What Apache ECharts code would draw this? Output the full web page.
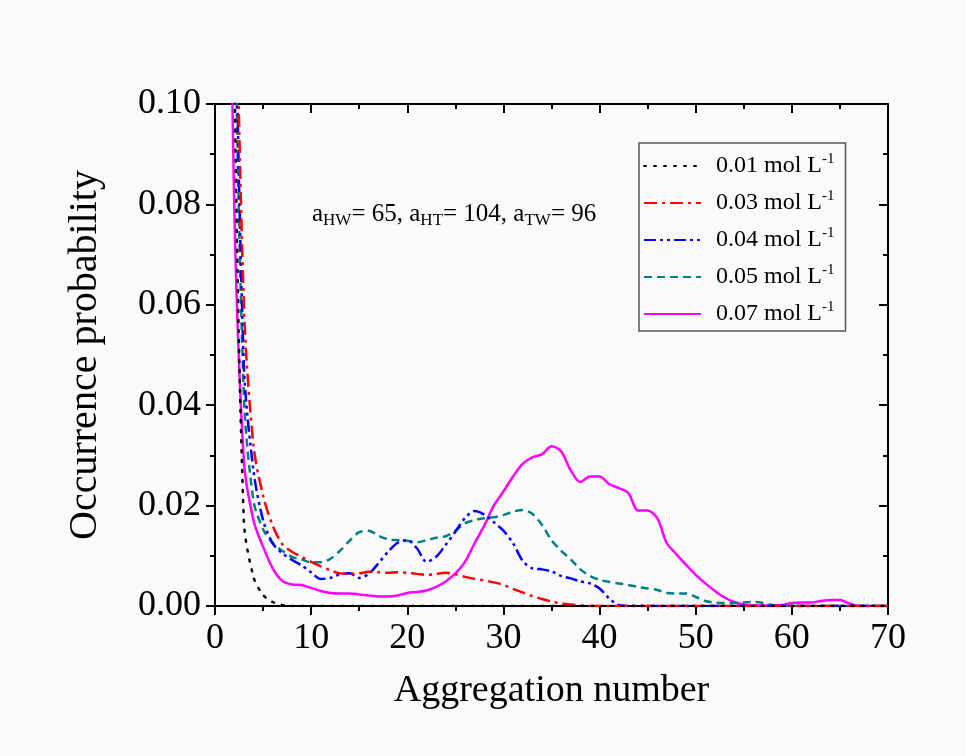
<!DOCTYPE html>
<html>
<head>
<meta charset="utf-8">
<script src="https://cdn.jsdelivr.net/npm/echarts@6/dist/echarts.min.js"></script>
<style>
html,body{margin:0;padding:0;background:#ffffff;}
#c{width:966px;height:756px;}
</style>
</head>
<body>
<div id="c"></div>
<script>
// Aggregation number (x)
const aggNumber = [1,2,3,4,5,6,7,8,9,10,11,12,13,14,15,16,17,18,19,20,21,22,23,24,25,26,27,28,29,30,31,32,33,34,35,36,37,38,39,40,41,42,43,44,45,46,47,48,49,50,51,52,53,54,55,56,57,58,59,60,61,62,63,64,65,66,67,68,69,70];

const seriesNames = ['0.01 mol L', '0.03 mol L', '0.04 mol L', '0.05 mol L', '0.07 mol L'];

const c001 = [0.3,0.11,0.017,0.0058,0.0022,0.0008,0.0002,0,0,0,0,0,0,0,0,0,0,0,0,0,0,0,0,0,0,0,0,0,0,0,0,0,0,0,0,0,0,0,0,0,0,0,0,0,0,0,0,0,0,0,0,0,0,0,0,0,0,0,0,0,0,0,0,0,0,0,0,0,0,0];

const c003 = [0.3,0.15,0.06,0.032,0.022,0.016,0.0123,0.0108,0.0098,0.0088,0.0079,0.0071,0.0065,0.0064,0.0065,0.0068,0.0067,0.0066,0.0067,0.0066,0.0064,0.0062,0.0064,0.0066,0.0063,0.0058,0.0054,0.0051,0.0047,0.0042,0.0034,0.0027,0.002,0.0014,0.0009,0.0005,0.0003,0.0001,0,0,0,0,0,0,0,0,0,0,0,0,0,0,0,0,0,0,0,0,0,0,0,0,0,0,0,0,0,0,0,0];

const c004 = [0.3,0.14,0.048,0.027,0.0171,0.0125,0.0105,0.0092,0.0081,0.0067,0.0054,0.0056,0.0063,0.0065,0.0056,0.0064,0.0085,0.0108,0.0126,0.0131,0.0115,0.0088,0.0098,0.0122,0.0148,0.0175,0.0189,0.0182,0.0167,0.015,0.0125,0.009,0.0075,0.0073,0.0069,0.006,0.0055,0.0049,0.0045,0.0035,0.0015,0.0002,0,0,0,0,0,0,0,0,0,0,0,0,0,0,0,0,0,0,0,0,0,0,0,0,0,0,0,0];

const c005 = [0.3,0.13,0.042,0.021,0.0153,0.0125,0.011,0.0098,0.0093,0.0087,0.0087,0.0094,0.011,0.013,0.0147,0.015,0.014,0.0133,0.0131,0.013,0.0127,0.0131,0.0136,0.0139,0.015,0.0165,0.0171,0.0175,0.0177,0.0181,0.0188,0.0191,0.0184,0.0162,0.0131,0.011,0.0093,0.0073,0.006,0.0052,0.0048,0.0045,0.0042,0.0038,0.0035,0.0032,0.0026,0.0025,0.0025,0.0018,0.001,0.0007,0.0006,0.0006,0.0007,0.0008,0.0006,0.0002,0,0,0,0,0,0,0,0,0,0,0,0];

const c007 = [0.2,0.08,0.029,0.0171,0.0118,0.0075,0.005,0.0043,0.0042,0.0036,0.003,0.0026,0.0025,0.0025,0.0023,0.0021,0.0019,0.0019,0.0021,0.0026,0.0028,0.0031,0.0038,0.0049,0.0065,0.0088,0.0125,0.016,0.02,0.0228,0.0258,0.0283,0.0296,0.0302,0.0318,0.0308,0.027,0.0247,0.0258,0.0258,0.0243,0.0235,0.0225,0.019,0.019,0.0175,0.0125,0.0103,0.0082,0.0062,0.0045,0.003,0.0017,0.0008,0.0003,0.0001,0.0001,0.0001,0.0002,0.0006,0.0007,0.0007,0.001,0.0012,0.0012,0.0005,0,0,0,0];

const xTicks = [0,10,20,30,40,50,60,70];
const yTicks = [0,0.02,0.04,0.06,0.08,0.10];

const colors = ['#000000','#ff0000','#0000ff','#008080','#ff00ff'];
const dashes = [[2,8],[13,5,3,5],[12,4,3,4,3,4],[8,5],'solid'];
const allData = [c001,c003,c004,c005,c007];

const FONT = '"Liberation Serif","Times New Roman",serif';

function pairs(arr){ return aggNumber.map((x,i)=>[x,arr[i]]); }

const chart = echarts.init(document.getElementById('c'));

const series = allData.map((d,i)=>({
  name: seriesNames[i],
  type: 'line',
  data: pairs(d),
  showSymbol: false,
  symbol: 'none',
  smooth: 0.3,
  clip: true,
  lineStyle: {color: colors[i], width: 2.5, type: dashes[i], cap: i===0?'round':'butt'},
  itemStyle: {color: colors[i]},
  z: 7 - i
}));

chart.setOption({
  backgroundColor: '#fafafa',
  animation: false,
  grid: {left: 215, right: 78, top: 104, bottom: 150, containLabel: false},
  xAxis: [{
    type: 'value', min: 0, max: 70, interval: 10,
    name: 'Aggregation number', nameLocation: 'middle', nameGap: 66,
    nameTextStyle: {fontFamily: FONT, fontSize: 38, color: '#000'},
    axisLine: {show: true, onZero: false, lineStyle: {color: '#000', width: 2}},
    axisTick: {show: true, inside: false, length: 9, lineStyle: {color: '#000', width: 2}},
    minorTick: {show: true, splitNumber: 2, length: 5, lineStyle: {color: '#000', width: 2}},
    axisLabel: {fontFamily: FONT, fontSize: 36, color: '#000', margin: 15},
    splitLine: {show: false}
  },{
    type: 'value', min: 0, max: 70, interval: 10, position: 'top',
    axisLine: {show: true, onZero: false, lineStyle: {color: '#000', width: 2}},
    axisTick: {show: true, inside: true, length: 9, lineStyle: {color: '#000', width: 2}},
    minorTick: {show: true, splitNumber: 2, length: 5, lineStyle: {color: '#000', width: 2}},
    axisLabel: {show: false},
    splitLine: {show: false}
  }],
  yAxis: [{
    type: 'value', min: 0, max: 0.1, interval: 0.02,
    name: 'Occurrence probability', nameLocation: 'middle', nameGap: 110,
    nameTextStyle: {fontFamily: FONT, fontSize: 40, color: '#000'},
    axisLine: {show: true, onZero: false, lineStyle: {color: '#000', width: 2}},
    axisTick: {show: true, inside: false, length: 9, lineStyle: {color: '#000', width: 2}},
    minorTick: {show: true, splitNumber: 2, length: 5, lineStyle: {color: '#000', width: 2}},
    axisLabel: {fontFamily: FONT, fontSize: 36, color: '#000', margin: 14,
      formatter: v => v.toFixed(2)},
    splitLine: {show: false}
  },{
    type: 'value', min: 0, max: 0.1, interval: 0.02, position: 'right',
    axisLine: {show: true, onZero: false, lineStyle: {color: '#000', width: 2}},
    axisTick: {show: true, inside: true, length: 9, lineStyle: {color: '#000', width: 2}},
    minorTick: {show: true, splitNumber: 2, length: 5, lineStyle: {color: '#000', width: 2}},
    axisLabel: {show: false},
    splitLine: {show: false}
  }],
  legend: {
    orient: 'vertical',
    left: 639, top: 143,
    padding: [9, 11, 4, 4],
    itemGap: 10,
    itemWidth: 57, itemHeight: 14,
    borderColor: '#555', borderWidth: 1.5,
    itemStyle: {color: 'transparent', borderWidth: 0, opacity: 0},
    data: seriesNames,
    formatter: n => '{a|' + n + '}{s|-1}',
    textStyle: {
      rich: {
        a: {fontFamily: FONT, fontSize: 24, color: '#000', lineHeight: 28, padding: [0,0,0,10]},
        s: {fontFamily: FONT, fontSize: 15, color: '#000', lineHeight: 28, verticalAlign: 'top', padding: [0,0,12,0]}
      }
    }
  },
  graphic: [{
    type: 'text',
    left: 312, top: 202,
    style: {
      text: '{m|a}{b|HW}{m|= 65, a}{b|HT}{m|= 104, a}{b|TW}{m|= 96}',
      rich: {
        m: {fontFamily: FONT, fontSize: 25, fill: '#000', lineHeight: 30},
        b: {fontFamily: FONT, fontSize: 17, fill: '#000', lineHeight: 30, verticalAlign: 'bottom', padding: [8,0,0,0]}
      }
    }
  }],
  series: series
});
</script>
</body>
</html>
